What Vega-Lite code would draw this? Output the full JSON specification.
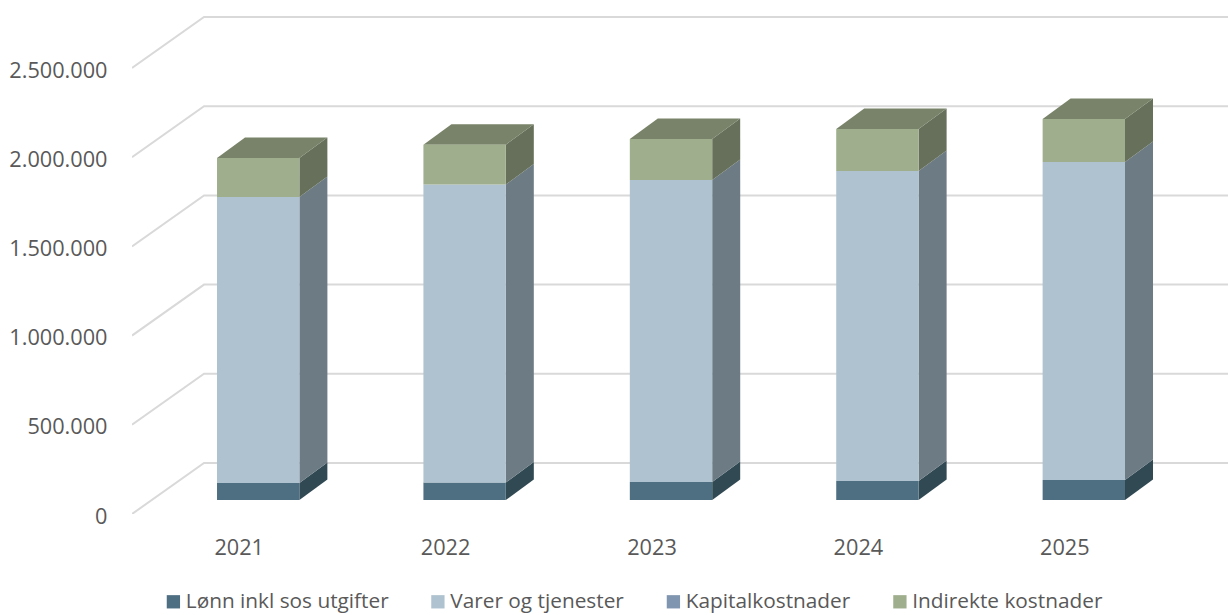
{
"$schema":"https://vega.github.io/schema/vega-lite/v6.json",
"width":1096,"height":514,
"autosize":{"type":"none"},
"padding":{"left":132,"top":0,"right":0,"bottom":101},
"background":"white",
"config":{"view":{"stroke":null},"font":"Open Sans"},
"datasets":{
"costs":[
{"year":2021,"category":"Lønn inkl sos utgifter","value":95000},
{"year":2021,"category":"Varer og tjenester","value":1603000},
{"year":2021,"category":"Kapitalkostnader","value":0},
{"year":2021,"category":"Indirekte kostnader","value":219000},
{"year":2022,"category":"Lønn inkl sos utgifter","value":98000},
{"year":2022,"category":"Varer og tjenester","value":1670000},
{"year":2022,"category":"Kapitalkostnader","value":0},
{"year":2022,"category":"Indirekte kostnader","value":224000},
{"year":2023,"category":"Lønn inkl sos utgifter","value":101000},
{"year":2023,"category":"Varer og tjenester","value":1693000},
{"year":2023,"category":"Kapitalkostnader","value":0},
{"year":2023,"category":"Indirekte kostnader","value":230000},
{"year":2024,"category":"Lønn inkl sos utgifter","value":106000},
{"year":2024,"category":"Varer og tjenester","value":1738000},
{"year":2024,"category":"Kapitalkostnader","value":0},
{"year":2024,"category":"Indirekte kostnader","value":235000},
{"year":2025,"category":"Lønn inkl sos utgifter","value":112000},
{"year":2025,"category":"Varer og tjenester","value":1783000},
{"year":2025,"category":"Kapitalkostnader","value":0},
{"year":2025,"category":"Indirekte kostnader","value":241000}
],
"ticks":[{"tick":0},{"tick":500000},{"tick":1000000},{"tick":1500000},{"tick":2000000},{"tick":2500000}]
},
"resolve":{"scale":{"color":"independent"}},
"layer":[
{
"data":{"name":"ticks"},
"transform":[
{"calculate":"[2020.483,2020.832,2025.793]","as":"gx"},
{"calculate":"[datum.tick,datum.tick+285900,datum.tick+285900]","as":"gy"},
{"flatten":["gx","gy"]}
],
"mark":{"type":"line","color":"#d9d9d9","strokeWidth":2,"clip":true},
"encoding":{
"x":{"field":"gx","type":"quantitative","scale":{"domain":[2020.483,2025.793],"nice":false,"zero":false},
"axis":{"values":[2021,2022,2023,2024,2025],"format":"d","title":null,"grid":false,"domain":false,"ticks":false,"labelFontSize":21.7,"labelColor":"#595959","labelPadding":23,"labelFlush":false}},
"y":{"field":"gy","type":"quantitative","scale":{"domain":[0,2881166],"nice":false},
"axis":{"values":[0,500000,1000000,1500000,2000000,2500000],"labelExpr":"replace(format(datum.value,','),/,/g,'.')","title":null,"grid":false,"domain":false,"ticks":false,"labelFontSize":21.7,"labelColor":"#595959","labelPadding":25,"labelOffset":2}},
"detail":{"field":"tick"}
}
},
{
"data":{"name":"costs"},
"transform":[
{"calculate":"indexof(['Lønn inkl sos utgifter','Varer og tjenester','Kapitalkostnader','Indirekte kostnader'],datum.category)","as":"ord"},
{"stack":"value","groupby":["year"],"sort":[{"field":"ord","order":"ascending"}],"as":["v0","v1"]},
{"filter":"datum.value>0"},
{"calculate":"datum.year+0.294","as":"xR"},
{"calculate":"[datum.xR,datum.xR+0.1357]","as":"sx"},
{"calculate":"[datum.v0+78475,datum.v0+78475+114900]","as":"sy0"},
{"calculate":"[datum.v1+78475,datum.v1+78475+114900]","as":"sy1"},
{"flatten":["sx","sy0","sy1"]}
],
"mark":{"type":"area"},
"encoding":{
"x":{"field":"sx","type":"quantitative"},
"y":{"field":"sy0","type":"quantitative"},
"y2":{"field":"sy1"},
"detail":{"field":"year"},
"color":{"field":"category","type":"nominal","legend":null,
"scale":{"domain":["Lønn inkl sos utgifter","Varer og tjenester","Indirekte kostnader"],"range":["#314953","#6d7b85","#66705a"]}}
}
},
{
"data":{"name":"costs"},
"transform":[
{"calculate":"indexof(['Lønn inkl sos utgifter','Varer og tjenester','Kapitalkostnader','Indirekte kostnader'],datum.category)","as":"ord"},
{"stack":"value","groupby":["year"],"sort":[{"field":"ord","order":"ascending"}],"as":["v0","v1"]},
{"filter":"datum.ord==3"},
{"calculate":"[datum.year-0.1051,datum.year-0.1051+0.1357,datum.year+0.294,datum.year+0.294+0.1357]","as":"tx"},
{"calculate":"[datum.v1+78475,datum.v1+78475,datum.v1+78475,datum.v1+78475+114900]","as":"ty0"},
{"calculate":"[datum.v1+78475,datum.v1+78475+114900,datum.v1+78475+114900,datum.v1+78475+114900]","as":"ty1"},
{"flatten":["tx","ty0","ty1"]}
],
"mark":{"type":"area","color":"#788369"},
"encoding":{
"x":{"field":"tx","type":"quantitative"},
"y":{"field":"ty0","type":"quantitative"},
"y2":{"field":"ty1"},
"detail":{"field":"year"}
}
},
{
"data":{"name":"costs"},
"transform":[
{"calculate":"indexof(['Lønn inkl sos utgifter','Varer og tjenester','Kapitalkostnader','Indirekte kostnader'],datum.category)","as":"ord"},
{"stack":"value","groupby":["year"],"sort":[{"field":"ord","order":"ascending"}],"as":["v0","v1"]},
{"calculate":"datum.year-0.1051","as":"xL"},
{"calculate":"datum.year+0.294","as":"xR"},
{"calculate":"datum.v0+78475","as":"y0"},
{"calculate":"datum.v1+78475","as":"y1"}
],
"mark":{"type":"rect"},
"encoding":{
"x":{"field":"xL","type":"quantitative"},
"x2":{"field":"xR"},
"y":{"field":"y0","type":"quantitative"},
"y2":{"field":"y1"},
"color":{"field":"category","type":"nominal",
"scale":{"domain":["Lønn inkl sos utgifter","Varer og tjenester","Kapitalkostnader","Indirekte kostnader"],"range":["#4e6f82","#aec2cf","#8096b0","#9fae8c"]},
"legend":{"orient":"none","legendX":31,"legendY":591,"direction":"horizontal","columns":4,"title":null,"symbolType":"square","symbolSize":177,"symbolStrokeWidth":0,"labelFontSize":20.8,"labelColor":"#595959","labelOffset":2,"columnPadding":38.5,"gridAlign":"each","labelLimit":400}}
}
}
]
}
